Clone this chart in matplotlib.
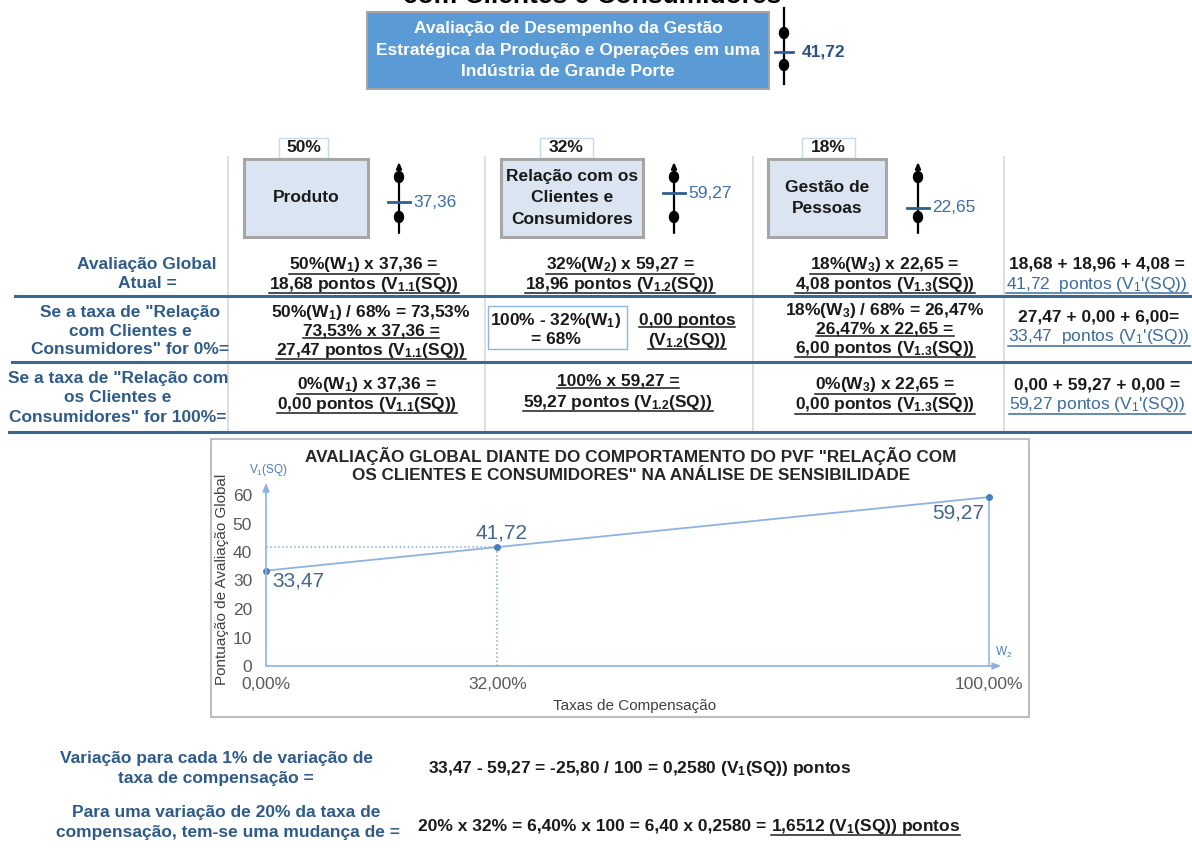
import matplotlib
matplotlib.use('Agg')
import matplotlib.pyplot as plt
from matplotlib.patches import Rectangle, Ellipse

plt.rcParams['font.family'] = ['Liberation Sans', 'DejaVu Sans']

# curva de sensibilidade do PVF "Relação com os Clientes e Consumidores"
taxas = [0, 32, 100]
taxa_labels = ['0,00%', '32,00%', '100,00%']
pontuacao = [33.47, 41.72, 59.27]
y_ticks = [0, 10, 20, 30, 40, 50, 60]

# PVFs, taxas de compensação e desempenho local
criterios = ['Produto', 'Relação com os\nClientes e\nConsumidores', 'Gestão de\nPessoas']
pesos = ['50%', '32%', '18%']
notas = [37.36, 59.27, 22.65]
nota_global = 41.72


def fmt(v):
    return f'{v:.2f}'.replace('.', ',')


def sub(s):
    return r'$\mathregular{_{%s}}$' % s


W, H = 1192, 848
fig = plt.figure(figsize=(W / 100, H / 100), dpi=100)
ax = fig.add_axes([0, 0, 1, 1])
ax.set_xlim(0, W)
ax.set_ylim(H, 0)
ax.axis('off')

BLUE_LBL = '#2f5b8a'
BLUE_LNK = '#3c6c9e'
DARK = '#1a1a1a'
under = []


def txt(x, y, s, color=DARK, size=12.5, weight='bold', ha='center', u=False, **kw):
    t = ax.text(x, y, s, color=color, fontsize=size, fontweight=weight,
                ha=ha, va='center', **kw)
    if u:
        under.append((t, color))
    return t


def escala(x, y_top, y_bom, y_neutro, y_bot, valor, size, color, weight, half, gap=3, arrow=True):
    if arrow:
        ax.annotate('', xy=(x, y_top), xytext=(x, y_bot),
                    arrowprops=dict(arrowstyle='-|>,head_length=0.35,head_width=0.15',
                                    color='black', lw=1.6, shrinkA=0, shrinkB=0))
    else:
        ax.plot([x, x], [y_top, y_bot], color='black', lw=1.6)
    for yy in (y_bom, y_neutro):
        ax.add_patch(Ellipse((x, yy), 9, 11, color='black', zorder=3))
    yv = y_neutro - valor / 100 * (y_neutro - y_bom)
    ax.plot([x - half, x + half], [yv, yv], color='#2f5f8f', lw=2, zorder=4)
    txt(x + half + gap, yv, fmt(valor), color=color, size=size, weight=weight, ha='left')


# título cortado no topo
ax.text(592, 3, 'com Clientes e Consumidores', fontsize=19, fontweight='bold',
        color='black', ha='center', va='baseline')

# caixa do objetivo estratégico
ax.add_patch(Rectangle((367, 12), 402, 77, facecolor='#5b9bd5', edgecolor='#a5a5a5', lw=1.5))
for yy, s in zip([29, 51, 72], ['Avaliação de Desempenho da Gestão',
                                'Estratégica da Produção e Operações em uma',
                                'Indústria de Grande Porte']):
    txt(568, yy, s, color='white', size=12.5)
escala(784, 8, 33, 65, 84, nota_global, 12.5, '#2c5282', 'bold', 9, gap=9, arrow=False)

# árvore de PVFs
box_x = [(244, 124), (501, 142), (768, 118)]
peso_x = [(279, 49), (540, 53), (802, 53)]
icon_x = [399, 674, 918]
for i in range(3):
    px, pw = peso_x[i]
    ax.add_patch(Rectangle((px, 138), pw, 20, facecolor='white', edgecolor='#c5d9f1', lw=1))
    txt(px + pw / 2, 148, pesos[i], size=12.5)
    bx, bw = box_x[i]
    ax.add_patch(Rectangle((bx, 159), bw, 78, facecolor='#dbe5f1', edgecolor='#a6a6a6', lw=2.2))
    txt(bx + bw / 2, 198, criterios[i], size=12.5, linespacing=1.5)
    escala(icon_x[i], 162, 177, 217, 233, notas[i], 12.5, '#3b6ea5', 'normal', 11)

# grade da tabela
for x in [228, 485, 753, 1004]:
    ax.plot([x, x], [157, 432], color='#d9d9d9', lw=1.2)
for x0, y in [(15, 296), (12, 362), (9, 432)]:
    ax.plot([x0, W], [y, y], color='#3b6790', lw=2.2)

# coluna de rótulos
for yy, s in zip([265, 284], ['Avaliação Global', 'Atual =']):
    txt(147, yy, s, color=BLUE_LBL)
for yy, s in zip([312, 331, 350], ['Se a taxa de "Relação', 'com Clientes e',
                                   'Consumidores" for 0%=']):
    txt(130, yy, s, color=BLUE_LBL)
for yy, s in zip([378, 398, 417], ['Se a taxa de "Relação com', 'os Clientes e',
                                   'Consumidores" for 100%=']):
    txt(118, yy, s, color=BLUE_LBL)

# linha 1: situação atual
txt(364, 265, '50%(W' + sub('1') + ') x 37,36 =', u=True)
txt(364, 284, '18,68 pontos (V' + sub('1.1') + '(SQ))', u=True)
txt(620, 265, '32%(W' + sub('2') + ') x 59,27 =', u=True)
txt(620, 284, '18,96 pontos (V' + sub('1.2') + '(SQ))', u=True)
txt(885, 265, '18%(W' + sub('3') + ') x 22,65 =', u=True)
txt(885, 284, '4,08 pontos (V' + sub('1.3') + '(SQ))', u=True)
txt(1097, 264, '18,68 + 18,96 + 4,08 =')
txt(1097, 284, '41,72  pontos (V' + sub('1') + "'(SQ))", color=BLUE_LNK, weight='normal', u=True)

# linha 2: taxa em 0%
txt(371, 312, '50%(W' + sub('1') + ') / 68% = 73,53%')
txt(371, 331, '73,53% x 37,36 =', u=True)
txt(371, 350, '27,47 pontos (V' + sub('1.1') + '(SQ))', u=True)
ax.add_patch(Rectangle((488, 306), 139, 43, facecolor='white', edgecolor='#8eb4e3', lw=1))
txt(556, 320, '100% - 32%(W' + sub('1') + ')')
txt(556, 340, '= 68%')
txt(687, 320, '0,00 pontos', u=True)
txt(687, 340, '(V' + sub('1.2') + '(SQ))', u=True)
txt(885, 310, '18%(W' + sub('3') + ') / 68% = 26,47%')
txt(885, 329, '26,47% x 22,65 =', u=True)
txt(885, 348, '6,00 pontos (V' + sub('1.3') + '(SQ))', u=True)
txt(1099, 317, '27,47 + 0,00 + 6,00=')
txt(1099, 337, '33,47  pontos (V' + sub('1') + "'(SQ))", color=BLUE_LNK, weight='normal', u=True)

# linha 3: taxa em 100%
txt(367, 385, '0%(W' + sub('1') + ') x 37,36 =', u=True)
txt(367, 404, '0,00 pontos (V' + sub('1.1') + '(SQ))', u=True)
txt(618, 381, '100% x 59,27 =', u=True)
txt(618, 402, '59,27 pontos (V' + sub('1.2') + '(SQ))', u=True)
txt(885, 385, '0%(W' + sub('3') + ') x 22,65 =', u=True)
txt(885, 405, '0,00 pontos (V' + sub('1.3') + '(SQ))', u=True)
txt(1097, 385, '0,00 + 59,27 + 0,00 =')
txt(1097, 405, '59,27 pontos (V' + sub('1') + "'(SQ))", color=BLUE_LNK, weight='normal', u=True)

# moldura do gráfico
ax.add_patch(Rectangle((211, 439), 818, 278, facecolor='white', edgecolor='#bfbfbf', lw=1.5))
txt(631, 456, 'AVALIAÇÃO GLOBAL DIANTE DO COMPORTAMENTO DO PVF "RELAÇÃO COM', color='#262626', size=12.3)
txt(631, 475, 'OS CLIENTES E CONSUMIDORES" NA ANÁLISE DE SENSIBILIDADE', color='#262626', size=12.3)
txt(222, 579, 'Pontuação de Avaliação Global', color='#404040', size=11, weight='normal', rotation=90)
txt(635, 706, 'Taxas de Compensação', color='#404040', size=11, weight='normal')
txt(268, 470, 'V' + sub('1') + '(SQ)', color='#4a7ebb', size=8.5, weight='normal')
txt(1004, 652, 'W' + sub('2'), color='#4a7ebb', size=8.5, weight='normal')

cax = fig.add_axes([266 / W, (H - 666) / H, 723 / W, 171 / H])
cax.set_xlim(0, 100)
cax.set_ylim(0, 60)
cax.patch.set_alpha(0)
for s in cax.spines.values():
    s.set_visible(False)
cax.set_yticks(y_ticks)
cax.set_xticks(taxas)
cax.set_xticklabels(taxa_labels)
cax.tick_params(axis='y', length=0, pad=10, labelsize=12.5, labelcolor='#595959')
cax.tick_params(axis='x', length=0, pad=8, labelsize=12.5, labelcolor='#595959')

axis_c = '#8db3e2'
arr = dict(arrowstyle='-|>,head_length=0.5,head_width=0.2', color=axis_c, lw=1.2, shrinkA=0, shrinkB=0)
cax.annotate('', xy=(0, 64.3), xytext=(0, 0), arrowprops=arr, annotation_clip=False)
cax.annotate('', xy=(101.7, 0), xytext=(0, 0), arrowprops=arr, annotation_clip=False)

cax.plot([taxas[1], taxas[1]], [0, pontuacao[1]], ls=':', color='#7fa7da', lw=1.1, clip_on=False)
cax.plot([0, taxas[1]], [pontuacao[1], pontuacao[1]], ls=':', color='#7fa7da', lw=1.1, clip_on=False)
cax.plot([taxas[2], taxas[2]], [0, pontuacao[2]], color=axis_c, lw=1.1, clip_on=False)
cax.plot(taxas, pontuacao, color=axis_c, lw=1.3, clip_on=False)
cax.plot(taxas, pontuacao, 'o', ms=4, color='#4a7ebb', clip_on=False)
offsets = [(23, -7.5), (3, 10.5), (-22, -11.5)]
for x, y, off in zip(taxas, pontuacao, offsets):
    cax.annotate(fmt(y), (x, y), xytext=off, textcoords='offset points',
                 ha='center', va='center', fontsize=15, color='#44678f')

# variação por ponto percentual
txt(216, 758, 'Variação para cada 1% de variação de', color=BLUE_LBL)
txt(216, 778, 'taxa de compensação =', color=BLUE_LBL)
txt(226, 812, 'Para uma variação de 20% da taxa de', color=BLUE_LBL)
txt(228, 832, 'compensação, tem-se uma mudança de =', color=BLUE_LBL)
txt(428, 768, '33,47 - 59,27 = -25,80 / 100 = 0,2580 (V' + sub('1') + '(SQ)) pontos', ha='left')
t_a = txt(418, 826, '20% x 32% = 6,40% x 100 = 6,40 x 0,2580 =', ha='left')

fig.canvas.draw()
r = fig.canvas.get_renderer()
inv = ax.transData.inverted()
bb = t_a.get_window_extent(r)
xa = inv.transform((bb.x1, bb.y0))[0]
t_b = txt(xa + 5, 826, '1,6512 (V' + sub('1') + '(SQ)) pontos', ha='left', u=True)

fig.canvas.draw()
for t, c in under:
    bb = t.get_window_extent(r)
    x0, y0 = inv.transform((bb.x0, bb.y0))
    x1, _ = inv.transform((bb.x1, bb.y0))
    ax.plot([x0, x1], [y0 - 1, y0 - 1], color=c, lw=1.1)

fig.savefig('out.png', dpi=100)
